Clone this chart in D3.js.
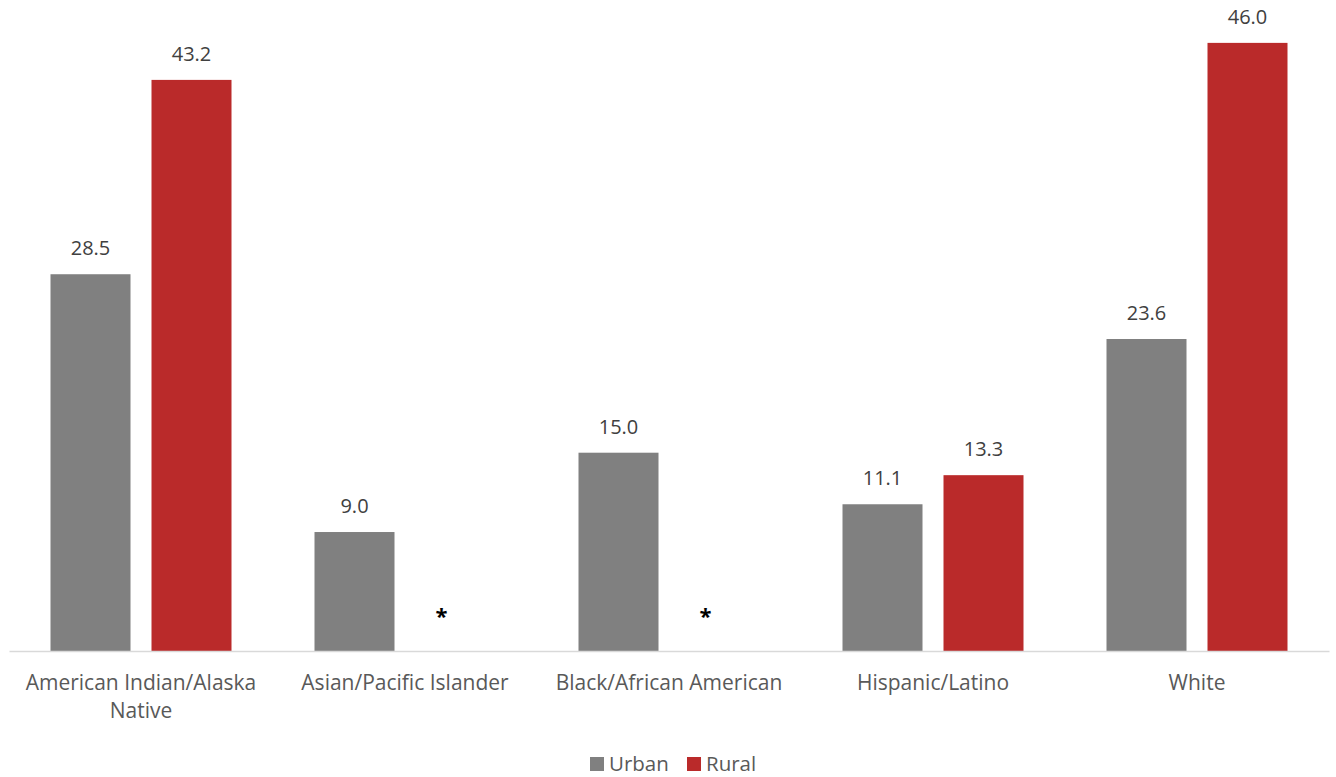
<!DOCTYPE html>
<html>
<head>
<meta charset="utf-8">
<script src="https://cdn.jsdelivr.net/npm/d3@7"></script>
<style>
  body { margin: 0; background: #fff; }
  svg text { font-family: "Open Sans", "Liberation Sans", sans-serif; }
</style>
</head>
<body>
<div id="chart"></div>
<script>
const categories = ["American Indian/Alaska Native", "Asian/Pacific Islander", "Black/African American", "Hispanic/Latino", "White"];
const seriesNames = ["Urban", "Rural"];
const urban = [28.5, 9.0, 15.0, 11.1, 23.6];
const rural = [43.2, null, null, 13.3, 46.0];
const colors = ["#808080", "#ba2a2a"];

const width = 1336, height = 777;
const baseY = 651;

const svg = d3.select("#chart").append("svg")
  .attr("width", width)
  .attr("height", height);

const x0 = d3.scaleBand()
  .domain(categories)
  .range([9, 1329]);

const x1 = d3.scaleBand()
  .domain(seriesNames)
  .range([(x0.bandwidth() - 181) / 2, (x0.bandwidth() + 181) / 2])
  .paddingInner(21 / 101);

const y = d3.scaleLinear()
  .domain([0, 50])
  .range([baseY, baseY - 50 * 13.22]);

const color = d3.scaleOrdinal().domain(seriesNames).range(colors);

const rows = categories.map((c, i) => ({
  cat: c,
  values: [{ key: "Urban", v: urban[i] }, { key: "Rural", v: rural[i] }]
}));

const groups = svg.append("g")
  .selectAll("g")
  .data(rows)
  .join("g")
  .attr("transform", d => `translate(${x0(d.cat)},0)`);

// bars for values that exist
groups.selectAll("rect")
  .data(d => d.values.filter(e => e.v != null))
  .join("rect")
  .attr("x", d => x1(d.key))
  .attr("y", d => y(d.v))
  .attr("width", x1.bandwidth())
  .attr("height", d => y(0) - y(d.v))
  .attr("fill", d => color(d.key));

// value labels
groups.selectAll("text.val")
  .data(d => d.values.filter(e => e.v != null))
  .join("text")
  .attr("class", "val")
  .attr("x", d => x1(d.key) + x1.bandwidth() / 2)
  .attr("y", d => y(d.v) - 19)
  .attr("text-anchor", "middle")
  .attr("font-size", 20)
  .attr("fill", "#404040")
  .text(d => d.v.toFixed(1));

// asterisk where data is suppressed
groups.selectAll("text.star")
  .data(d => d.values.filter(e => e.v == null))
  .join("text")
  .attr("class", "star")
  .attr("x", d => x1(d.key) + x1.bandwidth() / 2 - 14)
  .attr("y", baseY - 27)
  .attr("text-anchor", "middle")
  .attr("font-size", 22)
  .attr("font-weight", "bold")
  .attr("fill", "#000")
  .text("*");

// x axis
const xAxis = svg.append("g")
  .attr("transform", `translate(0,${baseY})`)
  .call(d3.axisBottom(x0).tickSize(0).tickSizeOuter(0));
xAxis.select(".domain").attr("stroke", "#d9d9d9").attr("stroke-width", 1.5);
xAxis.selectAll(".tick text")
  .attr("font-size", 21)
  .attr("fill", "#595959")
  .attr("font-family", "\"Open Sans\", sans-serif")
  .attr("dy", 0)
  .attr("y", 39)
  .each(function (d) {
    const t = d3.select(this);
    if (d === "American Indian/Alaska Native") {
      t.text(null);
      t.append("tspan").attr("x", 0).text("American Indian/Alaska");
      t.append("tspan").attr("x", 0).attr("dy", 28).text("Native");
    }
  });

// legend
const legend = svg.append("g").attr("transform", "translate(0,764)");
const legendX = [590, 687];
seriesNames.forEach((s, i) => {
  legend.append("rect")
    .attr("x", legendX[i])
    .attr("y", -7)
    .attr("width", 14)
    .attr("height", 14)
    .attr("fill", color(s));
  legend.append("text")
    .attr("x", legendX[i] + 19)
    .attr("y", 7)
    .attr("font-size", 20.5)
    .attr("fill", "#595959")
    .text(s);
});
</script>
</body>
</html>
